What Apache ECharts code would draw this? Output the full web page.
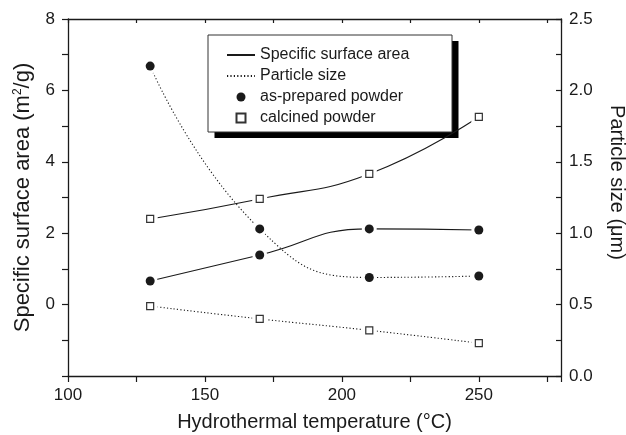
<!DOCTYPE html>
<html><head><meta charset="utf-8">
<script src="https://cdn.jsdelivr.net/npm/echarts@6/dist/echarts.min.js"></script>
<style>html,body{margin:0;padding:0;background:#fff}#c{width:626px;height:435px}</style>
</head><body><div id="c"></div>
<script>
// ---- data ----
const temperatures = [130, 170, 210, 250];
const ssaAsPrepared = [0.66, 1.39, 2.12, 2.09];     // m2/g (left axis)
const ssaCalcined = [2.40, 2.96, 3.66, 5.26];       // m2/g (left axis)
const sizeAsPrepared = [2.17, 1.03, 0.69, 0.70];    // um (right axis)
const sizeCalcined = [0.49, 0.40, 0.32, 0.23];      // um (right axis)
const xTickLabels = [100, 150, 200, 250];
const leftTickLabels = [0, 2, 4, 6, 8];
const rightTickLabels = [0, 0.5, 1.0, 1.5, 2.0, 2.5];

const FONT = 'Liberation Sans, Arial, Helvetica, sans-serif';
const INK = '#1a1a1a';
const pairs = (ys) => temperatures.map((t, i) => [t, ys[i]]);
const near = (v, arr) => arr.some(a => Math.abs(a - v) < 1e-6);

const axisLine = { show: true, onZero: false, lineStyle: { color: INK, width: 1.3 } };

function lineSeries(name, ys, yIdx, dotted) {
  return {
    type: 'line', name, data: pairs(ys), yAxisIndex: yIdx, smooth: true,
    symbol: 'none', z: 2, silent: true,
    itemStyle: { color: INK },
    lineStyle: { color: INK, width: 1.1, type: dotted ? [1.2, 2.2] : 'solid' }
  };
}
function haloSeries(ys, yIdx, shape) {
  return {
    type: 'scatter', name: 'halo', data: pairs(ys), yAxisIndex: yIdx, z: 3, silent: true,
    symbol: shape, symbolSize: 15, itemStyle: { color: '#fff', opacity: 1 }
  };
}
function markerSeries(name, ys, yIdx, filled) {
  return {
    type: 'scatter', name, data: pairs(ys), yAxisIndex: yIdx, z: 4, silent: true,
    symbol: filled ? 'circle' : 'rect', symbolSize: filled ? 9 : 7,
    itemStyle: filled ? { color: INK, opacity: 1 } : { color: '#fff', borderColor: '#333', borderWidth: 1.2, opacity: 1 }
  };
}

const chart = echarts.init(document.getElementById('c'), null, { renderer: 'canvas' });
chart.setOption({
  animation: false,
  backgroundColor: '#fff',
  textStyle: { fontFamily: FONT },
  grid: { left: 68, right: 65, top: 19, bottom: 59, containLabel: false, outerBoundsMode: 'none' },
  graphic: [
    { type: 'rect', z: 1, silent: true, shape: { x: 214.5, y: 41, width: 244, height: 97 },
      style: { fill: '#000' } },
    { type: 'rect', z: 2, silent: true, shape: { x: 208, y: 35, width: 244, height: 97 },
      style: { fill: '#fff', stroke: '#333', lineWidth: 1 } }
  ],
  xAxis: [{
    type: 'value', min: 100, max: 280, interval: 25, position: 'bottom',
    axisLine, splitLine: { show: false },
    axisTick: { show: true, length: 6, lineStyle: { color: INK, width: 1.2 } },
    axisLabel: { formatter: v => near(v, xTickLabels) ? String(v) : '', fontSize: 17, color: INK, margin: 11, fontFamily: FONT },
    name: 'Hydrothermal temperature (°C)', nameLocation: 'middle', nameGap: 36,
    nameTextStyle: { fontSize: 20, color: INK, fontFamily: FONT }
  }, {
    type: 'value', min: 100, max: 280, interval: 25, position: 'top',
    axisLine, splitLine: { show: false },
    axisTick: { show: true, inside: true, length: 4, lineStyle: { color: INK, width: 1.2 } },
    axisLabel: { show: false }
  }],
  yAxis: [{
    type: 'value', min: -2, max: 8, interval: 1, position: 'left',
    axisLine, splitLine: { show: false },
    axisTick: { show: true, length: 6, lineStyle: { color: INK, width: 1.2 } },
    axisLabel: { formatter: v => near(v, leftTickLabels) ? String(v) : '', fontSize: 17, color: INK, margin: 13, fontFamily: FONT },
    name: 'Specific surface area (m{sup|2}/g)', nameLocation: 'middle', nameGap: 34,
    nameTextStyle: { fontSize: 22, color: INK, fontFamily: FONT,
      rich: { sup: { fontSize: 12, verticalAlign: 'top', color: INK, fontFamily: FONT } } }
  }, {
    type: 'value', min: 0, max: 2.5, interval: 0.25, position: 'right',
    axisLine, splitLine: { show: false },
    axisTick: { show: true, inside: true, length: 5, lineStyle: { color: INK, width: 1.2 } },
    axisLabel: { formatter: v => near(v, rightTickLabels) ? v.toFixed(1) : '', fontSize: 17, color: INK, margin: 8, fontFamily: FONT },
    name: 'Particle size (μm)', nameLocation: 'middle', nameGap: 46, nameRotate: -90,
    nameTextStyle: { fontSize: 20, color: INK, fontFamily: FONT, padding: [0, 30, 0, 0] }
  }],
  legend: {
    data: [
      { name: 'Specific surface area', itemStyle: { opacity: 0 } },
      { name: 'Particle size', itemStyle: { opacity: 0 } },
      { name: 'as-prepared powder', icon: 'circle' },
      { name: 'calcined powder', icon: 'path://M0 0H10V10H0Z' }
    ],
    orient: 'vertical', left: 208, top: 35, z: 10,
    itemWidth: 28, itemHeight: 9, itemGap: 5,
    padding: [12, 30, 7, 18],
    backgroundColor: 'transparent', borderWidth: 0,
    selectedMode: false,
    textStyle: { fontFamily: FONT, fontSize: 16, color: INK, lineHeight: 16 }
  },
  series: [
    lineSeries('Specific surface area', ssaAsPrepared, 0, false),
    lineSeries('Specific surface area', ssaCalcined, 0, false),
    lineSeries('Particle size', sizeAsPrepared, 1, true),
    lineSeries('Particle size', sizeCalcined, 1, true),
    haloSeries(ssaAsPrepared, 0, 'circle'),
    haloSeries(ssaCalcined, 0, 'rect'),
    haloSeries(sizeAsPrepared, 1, 'circle'),
    haloSeries(sizeCalcined, 1, 'rect'),
    markerSeries('as-prepared powder', ssaAsPrepared, 0, true),
    markerSeries('calcined powder', ssaCalcined, 0, false),
    markerSeries('as-prepared powder', sizeAsPrepared, 1, true),
    markerSeries('calcined powder', sizeCalcined, 1, false)
  ]
});
</script></body></html>
